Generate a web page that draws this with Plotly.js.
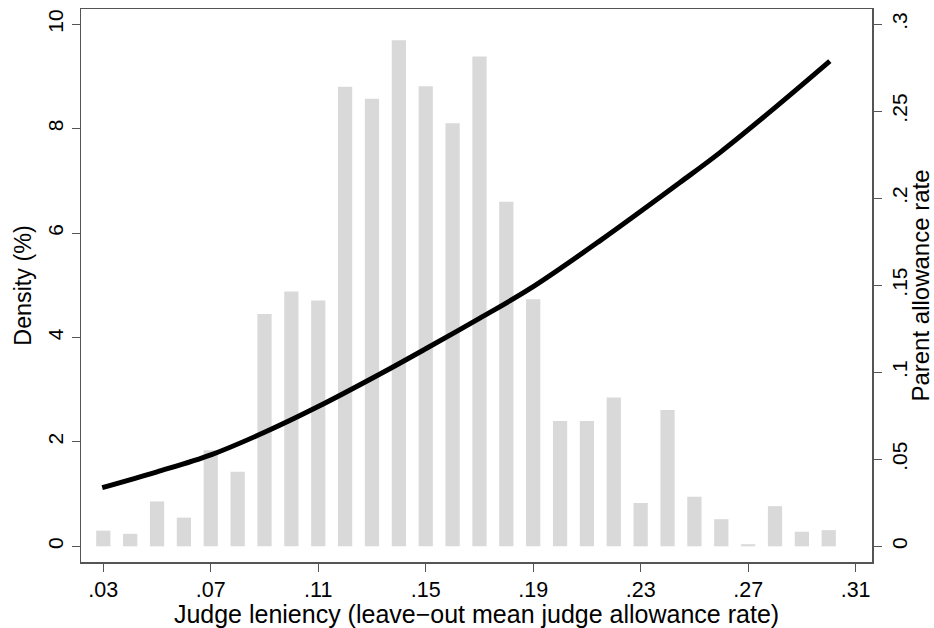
<!DOCTYPE html>
<html>
<head>
<meta charset="utf-8">
<script src="https://cdn.plot.ly/plotly-3.0.1.min.js"></script>
<style>
html,body{margin:0;padding:0;background:#fff;}
#chart{width:934px;height:628px;}
</style>
</head>
<body>
<div id="chart"></div>
<script>
// Histogram of judge leniency (density, %)
var binCenters = [0.03,0.04,0.05,0.06,0.07,0.08,0.09,0.10,0.11,0.12,0.13,0.14,0.15,0.16,0.17,0.18,0.19,0.20,0.21,0.22,0.23,0.24,0.25,0.26,0.27,0.28,0.29,0.30];
var densityPct = [0.30,0.24,0.86,0.55,1.84,1.43,4.45,4.88,4.71,8.80,8.57,9.69,8.81,8.10,9.38,6.60,4.73,2.40,2.40,2.85,0.83,2.61,0.95,0.52,0.04,0.77,0.28,0.31];

// Fitted parent allowance rate
var fitX = [0.0296,0.0500,0.0703,0.0900,0.1096,0.1330,0.1500,0.1700,0.1888,0.2148,0.2446,0.2595,0.2800,0.3004];
var fitY = [0.0337,0.0428,0.0527,0.0655,0.0800,0.0990,0.1135,0.1310,0.1480,0.1755,0.2090,0.2262,0.2520,0.2787];

var xTicks = [0.03,0.07,0.11,0.15,0.19,0.23,0.27,0.31];
var xTickText = ['.03','.07','.11','.15','.19','.23','.27','.31'];
var yLeftTicks = [0,2,4,6,8,10];
var yRightTicks = [0,0.05,0.1,0.15,0.2,0.25,0.3];
var yRightText = ['0','.05','.1','.15','.2','.25','.3'];

var font = 'Liberation Sans, Arial, Helvetica, sans-serif';

var traces = [
  {
    type: 'bar',
    x: binCenters,
    y: densityPct,
    width: binCenters.map(function(){return 0.0053;}),
    marker: {color: '#d9d9d9', line: {width: 0}},
    yaxis: 'y',
    hoverinfo: 'x+y',
    showlegend: false
  },
  {
    type: 'scatter',
    mode: 'lines',
    x: fitX,
    y: fitY,
    line: {color: '#000000', width: 5, shape: 'spline', smoothing: 1.0},
    yaxis: 'y2',
    showlegend: false
  }
];

var axisColor = '#555555';
var layout = {
  width: 934,
  height: 628,
  margin: {l: 81, r: 62, t: 9, b: 66},
  paper_bgcolor: '#ffffff',
  plot_bgcolor: '#ffffff',
  font: {family: font, size: 21, color: '#000'},
  showlegend: false,
  xaxis: {
    range: [0.0217, 0.3161],
    tickvals: xTicks,
    ticktext: xTickText,
    ticks: 'outside',
    ticklen: 8,
    tickcolor: axisColor,
    tickwidth: 1,
    showgrid: false,
    zeroline: false,
    showline: true,
    linecolor: axisColor,
    linewidth: 1.5,
    mirror: true,
    automargin: false,
    tickfont: {family: font, size: 21.5},
    title: {text: 'Judge leniency (leave\u2212out mean judge allowance rate)', font: {family: font, size: 25}, standoff: 0}
  },
  yaxis: {
    range: [-0.30, 10.29],
    tickvals: yLeftTicks,
    ticks: 'outside',
    ticklen: 8,
    tickcolor: axisColor,
    tickangle: -90,
    showgrid: false,
    zeroline: false,
    showline: true,
    linecolor: axisColor,
    linewidth: 1.5,
    automargin: false,
    tickfont: {family: font, size: 21},
    title: {text: 'Density (%)', font: {family: font, size: 23.3}, standoff: 6}
  },
  yaxis2: {
    overlaying: 'y',
    side: 'right',
    range: [-0.009, 0.3087],
    tickvals: yRightTicks,
    ticktext: yRightText,
    ticks: 'outside',
    ticklen: 8,
    tickcolor: axisColor,
    tickangle: -90,
    showgrid: false,
    zeroline: false,
    showline: true,
    linecolor: axisColor,
    linewidth: 1.5,
    automargin: false,
    tickfont: {family: font, size: 21},
    title: {text: 'Parent allowance rate', font: {family: font, size: 24}, standoff: 4}
  }
};

Plotly.newPlot('chart', traces, layout, {displayModeBar: false, staticPlot: true});
</script>
</body>
</html>
